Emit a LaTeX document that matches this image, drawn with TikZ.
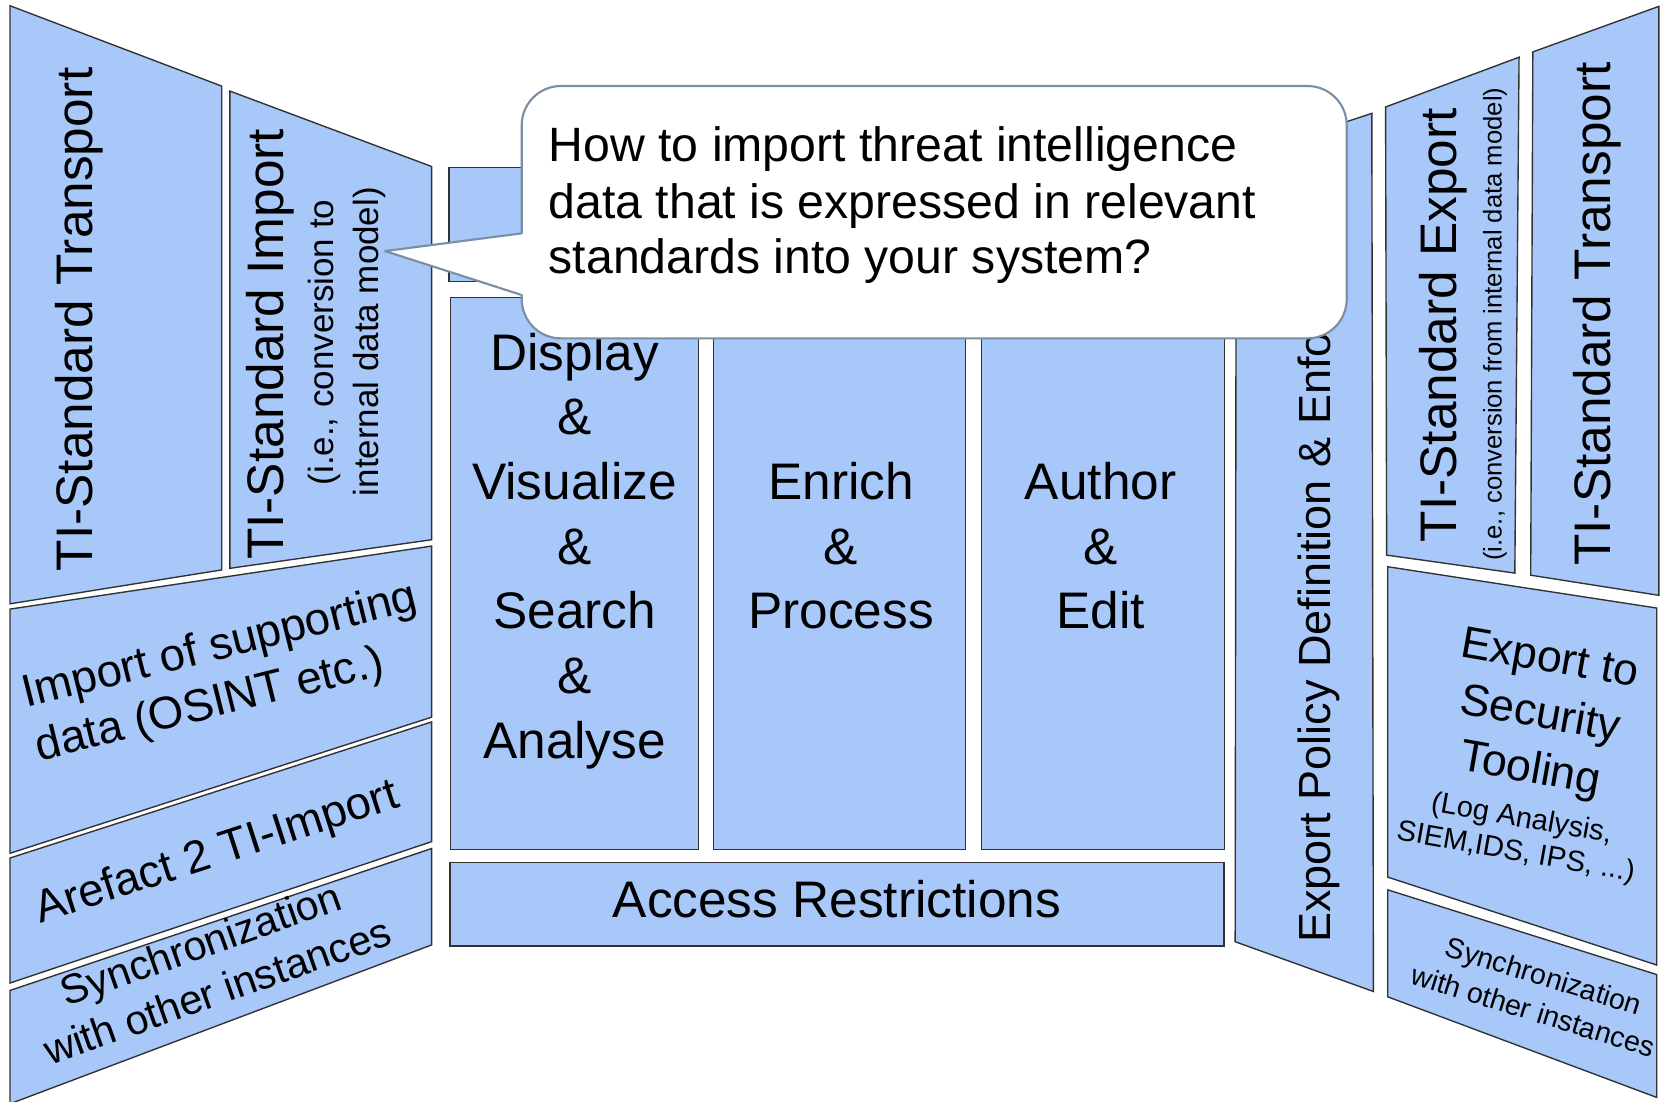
\documentclass[tikz,border=0pt]{standalone}
\usepackage{fontspec}
\setmainfont{Liberation Sans}
\definecolor{panelfill}{RGB}{168,200,250}
\definecolor{paneledge}{RGB}{50,50,50}
\definecolor{bubbleedge}{RGB}{122,143,163}
\newcommand{\pxsize}[1]{\fontsize{#1}{#1}\selectfont}
\begin{document}
\begin{tikzpicture}[x=1pt, y=-1pt,
  panel/.style={fill=panelfill, draw=paneledge, line width=1.3pt},
  txt/.style={inner sep=0pt, outer sep=0pt, text=black},
  bubble/.style={fill=white, draw=bubbleedge, line width=2pt, line join=round}]
\useasboundingbox (0,0) rectangle (1568,1040);

% ---------- left wall ----------
\draw[panel] (9.4,5.4) -- (209.3,81.3) -- (209.3,538) -- (9.4,570) -- cycle;
\draw[panel] (217,86) -- (407.5,157.2) -- (407.5,509.5) -- (217,536.5) -- cycle;
\draw[panel] (9.4,575) -- (407.5,515.5) -- (407.5,677) -- (9.4,805.5) -- cycle;
\draw[panel] (9.4,810) -- (407.5,681.5) -- (407.5,794.5) -- (9.4,928) -- cycle;
\draw[panel] (9.4,935) -- (407.5,801) -- (407.5,892) -- (9.4,1042) -- cycle;

\node[txt, font=\pxsize{48.5}, rotate=90, anchor=base] (ltrans) at (87,301.5) {TI-Standard Transport};
\node[txt, font=\pxsize{48.5}, rotate=90, anchor=base] (limp) at (267.5,325) {TI-Standard Import};
\node[txt, font=\pxsize{33}, rotate=90, anchor=base] (limpa) at (314.7,323.4) {(i.e., conversion to};
\node[txt, font=\pxsize{33}, rotate=90, anchor=base] (limpb) at (357,322.5) {internal data model)};

\begin{scope}[shift={(25,668)}, rotate=14, transform shape]
  \node[txt, font=\pxsize{43}, anchor=base west] (sup1) at (0,0) {Import of supporting};
  \node[txt, font=\pxsize{43}, anchor=base west] (sup2) at (0,52) {data (OSINT etc.)};
\end{scope}
\begin{scope}[shift={(38,872)}, rotate=18, transform shape]
  \node[txt, font=\pxsize{43}, anchor=base west] (aref) at (0,0) {Arefact 2 TI-Import};
\end{scope}
\begin{scope}[shift={(194,904)}, rotate=19.5, transform shape]
  \node[txt, font=\pxsize{39}, anchor=base] (lsync1) at (0,0) {Synchronization};
  \node[txt, font=\pxsize{39}, anchor=base] (lsync2) at (0,47) {with other instances};
\end{scope}

% ---------- centre ----------
\draw[panel] (424,158) rectangle (1156,266);
\draw[panel] (425.5,281) rectangle (659.3,801.8);
\draw[panel] (673.4,281) rectangle (911.6,801.8);
\draw[panel] (926.7,281) rectangle (1156,801.8);
\draw[panel] (424.8,814.4) rectangle (1155.5,893);

\node[txt, font=\pxsize{48.5}, anchor=base] (dsp1) at (542.4,349.3) {Display};
\node[txt, font=\pxsize{48.5}, anchor=base] (dsp2) at (542.4,410.4) {\&};
\node[txt, font=\pxsize{48.5}, anchor=base] (dsp3) at (542.4,471.5) {Visualize};
\node[txt, font=\pxsize{48.5}, anchor=base] (dsp4) at (542.4,532.6) {\&};
\node[txt, font=\pxsize{48.5}, anchor=base] (dsp5) at (542.4,593.7) {Search};
\node[txt, font=\pxsize{48.5}, anchor=base] (dsp6) at (542.4,654.8) {\&};
\node[txt, font=\pxsize{48.5}, anchor=base] (dsp7) at (542.4,715.9) {Analyse};

\node[txt, font=\pxsize{48.5}, anchor=base] (enr1) at (794,471.5) {Enrich};
\node[txt, font=\pxsize{48.5}, anchor=base] (enr2) at (794,532.6) {\&};
\node[txt, font=\pxsize{48.5}, anchor=base] (enr3) at (794,593.7) {Process};

\node[txt, font=\pxsize{48.5}, anchor=base] (aut1) at (1039,471.5) {Author};
\node[txt, font=\pxsize{48.5}, anchor=base] (aut2) at (1039,532.6) {\&};
\node[txt, font=\pxsize{48.5}, anchor=base] (aut3) at (1039,593.7) {Edit};

\node[txt, font=\pxsize{48.5}, anchor=base] (acc) at (790,866) {Access Restrictions};

% ---------- right wall ----------
\draw[panel] (1167,149.5) -- (1295,107) -- (1296.5,936) -- (1166,889) -- cycle;
\draw[panel] (1308,101) -- (1434,54) -- (1430,541) -- (1309,524) -- cycle;
\draw[panel] (1447,49) -- (1566,6) -- (1566,562) -- (1445,543) -- cycle;
\draw[panel] (1310,535) -- (1564,574) -- (1564,911) -- (1310,828) -- cycle;
\draw[panel] (1310,840) -- (1564,920) -- (1564,1036) -- (1310,941) -- cycle;

\node[txt, font=\pxsize{42.5}, rotate=90, anchor=base west] (pol) at (1255.6,890) {Export Policy Definition \& Enforcement};
\node[txt, font=\pxsize{48.5}, rotate=90, anchor=base] (rexp) at (1375,307) {TI-Standard Export};
\node[txt, font=\pxsize{24.2}, rotate=90, anchor=base] (rexpa) at (1417.6,306) {(i.e., conversion from internal data model)};
\node[txt, font=\pxsize{48.5}, rotate=90, anchor=base] (rtrans) at (1520,296.4) {TI-Standard Transport};

\begin{scope}[shift={(1461,634)}, rotate=-10, transform shape]
  \node[txt, font=\pxsize{42.2}, anchor=base] (tool1) at (0,0) {Export to};
  \node[txt, font=\pxsize{42.2}, anchor=base] (tool2) at (0,53.5) {Security};
  \node[txt, font=\pxsize{42.2}, anchor=base] (tool3) at (0,106) {Tooling};
  \node[txt, font=\pxsize{27.5}, anchor=base] (tool4) at (0,149) {(Log Analysis,};
  \node[txt, font=\pxsize{27.5}, anchor=base] (tool5) at (0,181) {SIEM,IDS, IPS, ...)};
\end{scope}
\begin{scope}[shift={(1454.7,930.3)}, rotate=-17.2, transform shape]
  \node[txt, font=\pxsize{27}, anchor=base] (rsync1) at (0,0) {Synchronization};
  \node[txt, font=\pxsize{27}, anchor=base] (rsync2) at (0,34.5) {with other instances};
\end{scope}

% ---------- speech bubble ----------
\draw[bubble] (363.5,237) -- (492.5,220.3) -- (492.5,118.2)
  arc[start angle=180, end angle=270, radius=37] -- (1234.3,81.2)
  arc[start angle=270, end angle=360, radius=37] -- (1271.3,282.4)
  arc[start angle=0, end angle=90, radius=37] -- (529.5,319.4)
  arc[start angle=90, end angle=180, radius=37] -- (492.5,278.5) -- cycle;

\node[txt, font=\pxsize{45.5}, anchor=base west] (q1) at (518,152.6) {How to import threat intelligence};
\node[txt, font=\pxsize{45.5}, anchor=base west] (q2) at (518,206.1) {data that is expressed in relevant};
\node[txt, font=\pxsize{45.5}, anchor=base west] (q3) at (518,258) {standards into your system?};
\end{tikzpicture}
\end{document}
